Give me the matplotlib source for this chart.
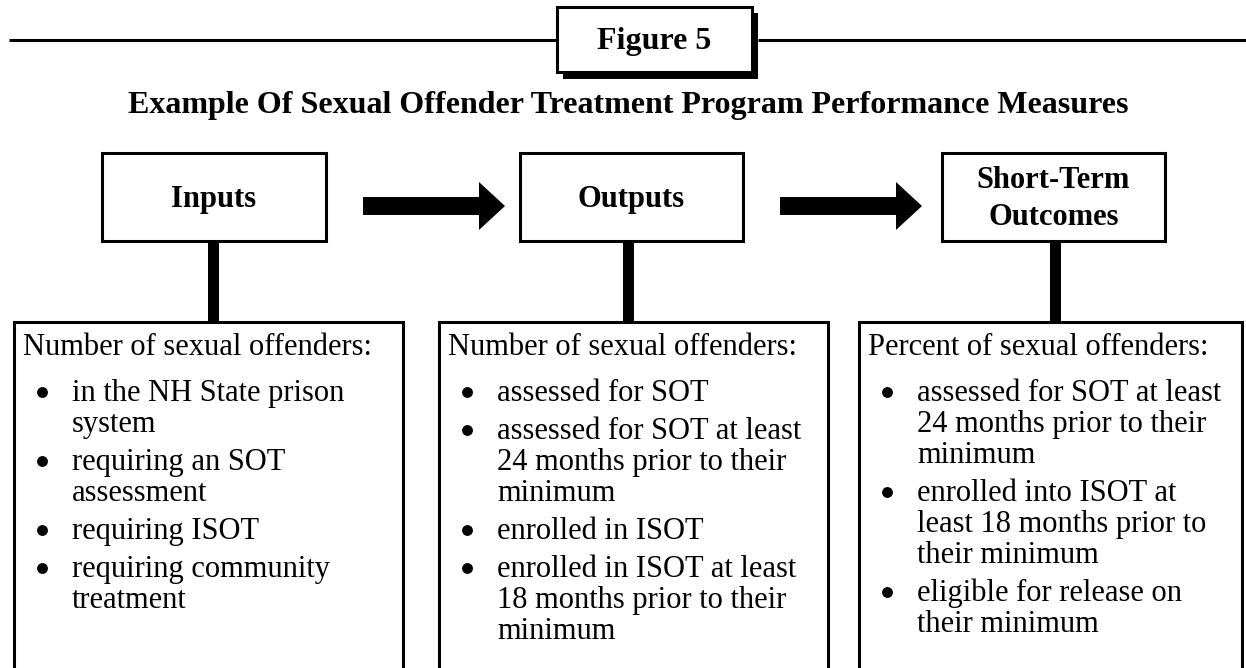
import matplotlib
matplotlib.use('Agg')
import matplotlib.pyplot as plt
from matplotlib.patches import Rectangle, FancyArrow

plt.rcParams['font.family'] = ['Liberation Serif', 'DejaVu Serif']

# text content
figure_label = 'Figure 5'
title = 'Example Of Sexual Offender Treatment Program Performance Measures'
stage_names = [['Inputs'], ['Outputs'], ['Short-Term', 'Outcomes']]
box_headers = ['Number of sexual offenders:',
               'Number of sexual offenders:',
               'Percent of sexual offenders:']
inputs_items = [['in the NH State prison', 'system'],
                ['requiring an SOT', 'assessment'],
                ['requiring ISOT'],
                ['requiring community', 'treatment']]
outputs_items = [['assessed for SOT'],
                 ['assessed for SOT at least', '24 months prior to their', 'minimum'],
                 ['enrolled in ISOT'],
                 ['enrolled in ISOT at least', '18 months prior to their', 'minimum']]
outcomes_items = [['assessed for SOT at least', '24 months prior to their', 'minimum'],
                  ['enrolled into ISOT at', 'least 18 months prior to', 'their minimum'],
                  ['eligible for release on', 'their minimum']]
all_items = [inputs_items, outputs_items, outcomes_items]

W, H = 1246, 668
fig = plt.figure(figsize=(W / 100, H / 100), dpi=100)
ax = fig.add_axes([0, 0, 1, 1])
ax.set_xlim(0, W)
ax.set_ylim(H, 0)
ax.axis('off')

lw = 2.2

# header rule with the figure label box
ax.plot([9, 557], [40, 40], color='black', lw=lw, solid_capstyle='butt')
ax.plot([758, W], [40, 40], color='black', lw=lw, solid_capstyle='butt')
ax.add_patch(Rectangle((563, 13), 195, 66, facecolor='black', edgecolor='none'))
ax.add_patch(Rectangle((557, 7), 195, 65, facecolor='white', edgecolor='black', lw=lw))
ax.text(654, 49, figure_label, ha='center', va='baseline', fontsize=23, fontweight='bold')

ax.text(628, 113, title, ha='center', va='baseline', fontsize=23, fontweight='bold')

# top stage boxes
top_boxes = [(102, 326), (520, 743), (942, 1165)]
stem_x = [213, 628, 1055]
for (x0, x1), names, sx in zip(top_boxes, stage_names, stem_x):
    ax.add_patch(Rectangle((x0, 153), x1 - x0, 88, facecolor='white', edgecolor='black', lw=lw))
    cx = (x0 + x1) / 2
    if len(names) == 1:
        ax.text(cx, 207, names[0], ha='center', va='baseline', fontsize=22, fontweight='bold')
    else:
        ax.text(cx, 188, names[0], ha='center', va='baseline', fontsize=22, fontweight='bold')
        ax.text(cx, 225, names[1], ha='center', va='baseline', fontsize=22, fontweight='bold')
    ax.add_patch(Rectangle((sx - 5.5, 241), 11, 81, facecolor='black', edgecolor='none'))

# arrows between stages
for x0, tip in [(363, 505), (780, 922)]:
    ax.add_patch(FancyArrow(x0, 206, tip - x0, 0, width=18, head_width=48, head_length=26,
                            length_includes_head=True, color='black', lw=0))

# lower measure boxes (open at the bottom)
low_boxes = [(14, 403), (439, 828), (859, 1242)]
for (x0, x1), header, items in zip(low_boxes, box_headers, all_items):
    ax.plot([x0, x0, x1, x1], [H + 10, 322, 322, H + 10], color='black', lw=lw,
            solid_joinstyle='miter')
    ax.text(x0 + 9, 355, header, ha='left', va='baseline', fontsize=22)
    y = 401
    for lines in items:
        ax.plot(x0 + 28, y - 9, marker='o', markersize=6.8, color='black')
        for line in lines:
            ax.text(x0 + 58, y, line, ha='left', va='baseline', fontsize=22)
            y += 31
        y += 7

fig.savefig('out.png', dpi=100)
